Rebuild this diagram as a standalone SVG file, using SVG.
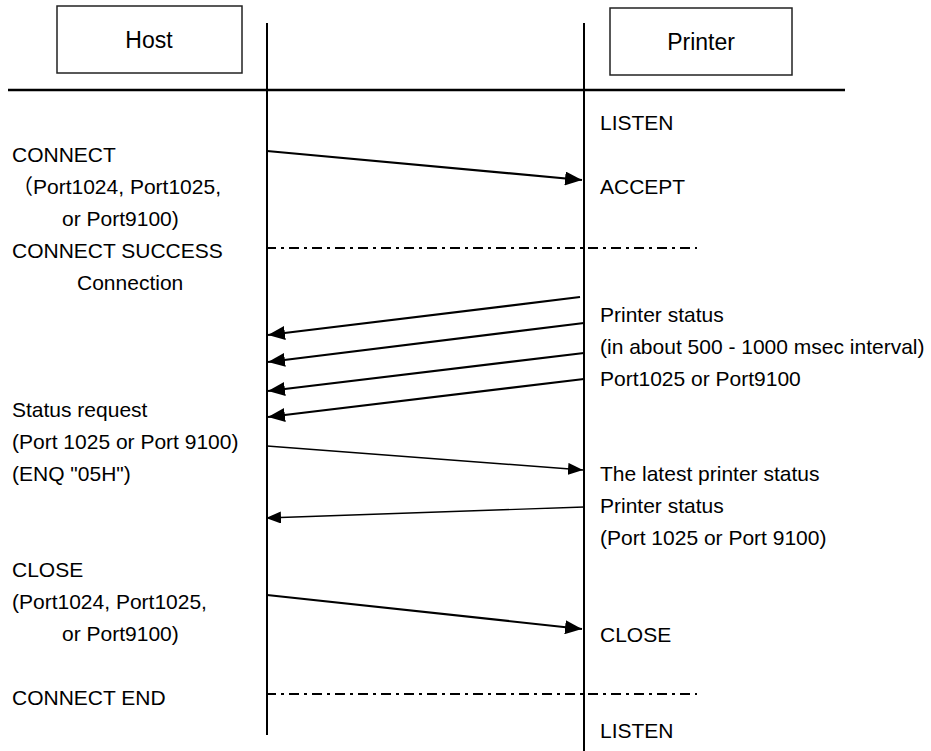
<svg xmlns="http://www.w3.org/2000/svg" width="931" height="751" viewBox="0 0 931 751">
<style>
text{font-family:"Liberation Sans","Noto Sans CJK SC",Arial,sans-serif;fill:#000}
.t{font-size:21px}
.h{font-size:23px}
.box{fill:#fff;stroke:#222;stroke-width:1.5}
.life{stroke:#000;stroke-width:2;fill:none}
.msg{stroke:#000;stroke-width:2.2;fill:none}
.thin{stroke:#000;stroke-width:1.4;fill:none}
.dd{stroke:#000;stroke-width:2;stroke-dasharray:10 5 3 5;fill:none}
</style>
<defs>
<marker id="ah" markerUnits="userSpaceOnUse" markerWidth="17" markerHeight="14" refX="17" refY="7" orient="auto">
<path d="M0,0 L17,7 L0,14 z" fill="#000"/>
</marker>
<marker id="ahs" markerUnits="userSpaceOnUse" markerWidth="15" markerHeight="12" refX="15" refY="6" orient="auto">
<path d="M0,0 L15,6 L0,12 z" fill="#000"/>
</marker>
</defs>
<rect width="931" height="751" fill="#fff"/>
<g id="host">
<rect class="box" x="57" y="6" width="185" height="67"/>
<text class="h" x="149" y="48" text-anchor="middle">Host</text>
</g>
<g id="printer">
<rect class="box" x="610" y="8" width="182" height="67"/>
<text class="h" x="701" y="50" text-anchor="middle">Printer</text>
</g>
<g id="frame">
<line class="life" x1="8" y1="90" x2="845" y2="90" style="stroke-width:2.5"/>
<line class="life" x1="267" y1="23" x2="267" y2="735"/>
<line class="life" x1="584" y1="23" x2="584" y2="751"/>
</g>
<g id="connectors">
<line class="msg" x1="267" y1="151" x2="582" y2="180" marker-end="url(#ah)"/>
<line class="dd" x1="266" y1="248" x2="697" y2="248"/>
<line class="msg" x1="580" y1="297" x2="268" y2="335" marker-end="url(#ah)"/>
<line class="msg" x1="584" y1="323" x2="268" y2="362" marker-end="url(#ah)"/>
<line class="msg" x1="584" y1="353" x2="268" y2="391" marker-end="url(#ah)"/>
<line class="msg" x1="584" y1="379" x2="268" y2="417" marker-end="url(#ah)"/>
<line class="thin" x1="267" y1="446" x2="583" y2="470" marker-end="url(#ahs)"/>
<line class="thin" x1="584" y1="507" x2="266" y2="518" marker-end="url(#ahs)"/>
<line class="msg" x1="267" y1="595" x2="582" y2="629" marker-end="url(#ah)"/>
<line class="dd" x1="266" y1="694" x2="697" y2="694"/>
</g>
<g id="host-labels">
<text class="t" x="12" y="162">CONNECT</text>
<text class="t" x="12" y="194">（Port1024, Port1025,</text>
<text class="t" x="62" y="226">or Port9100)</text>
<text class="t" x="12" y="258">CONNECT SUCCESS</text>
<text class="t" x="77" y="290">Connection</text>
<text class="t" x="12" y="417">Status request</text>
<text class="t" x="12" y="449">(Port 1025 or Port 9100)</text>
<text class="t" x="12" y="481">(ENQ "05H")</text>
<text class="t" x="12" y="577">CLOSE</text>
<text class="t" x="12" y="609">(Port1024, Port1025,</text>
<text class="t" x="62" y="641">or Port9100)</text>
<text class="t" x="12" y="705">CONNECT END</text>
</g>
<g id="printer-labels">
<text class="t" x="600" y="130">LISTEN</text>
<text class="t" x="600" y="194">ACCEPT</text>
<text class="t" x="600" y="322">Printer status</text>
<text class="t" x="600" y="354">(in about 500 - 1000 msec interval)</text>
<text class="t" x="600" y="386">Port1025 or Port9100</text>
<text class="t" x="600" y="481">The latest printer status</text>
<text class="t" x="600" y="513">Printer status</text>
<text class="t" x="600" y="545">(Port 1025 or Port 9100)</text>
<text class="t" x="600" y="642">CLOSE</text>
<text class="t" x="600" y="738">LISTEN</text>
</g>
</svg>
